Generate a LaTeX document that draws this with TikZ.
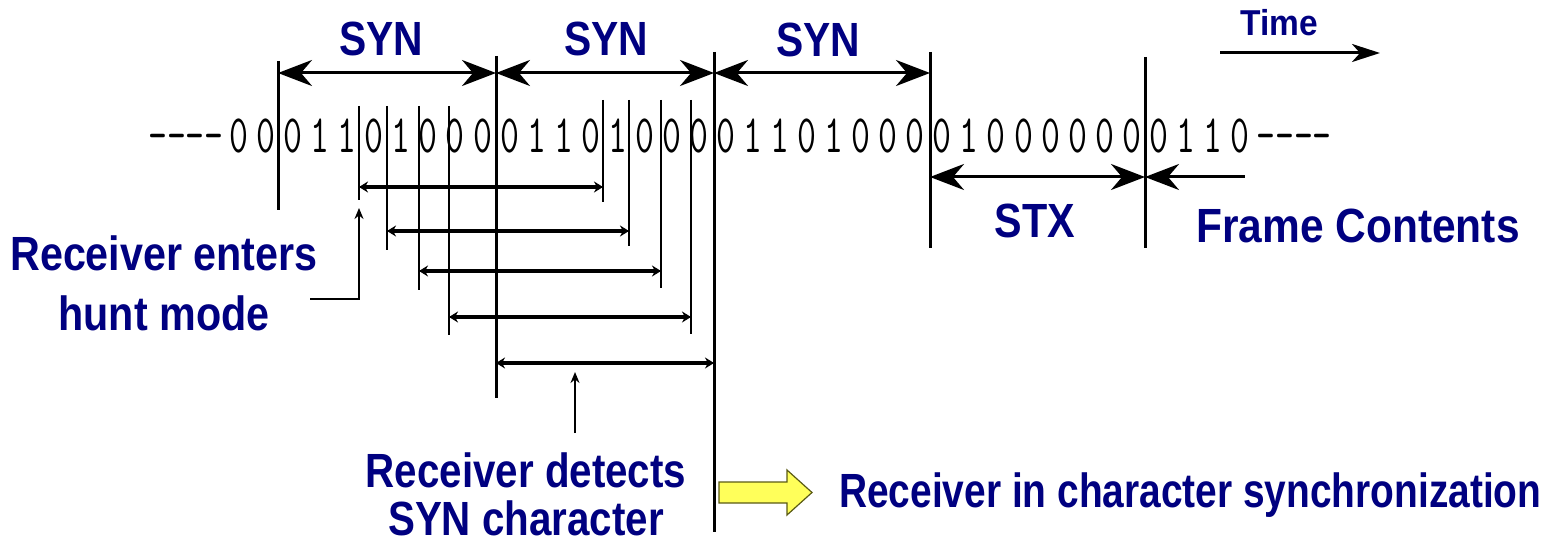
\documentclass[tikz,border=0pt]{standalone}
\usepackage{fontspec}
\setmainfont{Liberation Sans}
\usepackage{graphicx}
\usetikzlibrary{arrows.meta,positioning}

\definecolor{navytext}{RGB}{0,0,128}
\definecolor{hiyellow}{RGB}{255,255,90}
\definecolor{hiedge}{RGB}{90,90,20}

\newcommand{\hsq}[2]{\scalebox{#1}[1]{#2}}

\tikzset{
  lbl/.style={text=navytext, font=\fontsize{48}{60}\selectfont\bfseries, inner sep=0pt, anchor=base},
  bit/.style={font=\fontsize{54}{54}\selectfont\ttfamily, inner sep=0pt, anchor=base},
  bound/.style={line width=3pt},
  hunt/.style={line width=2pt},
  bigtip/.style={line width=3pt, >={Stealth[length=34pt,width=26pt,inset=11pt]}},
  window/.style={line width=3.5pt, <->, >={Stealth[length=9pt,width=11pt]}},
  pointer/.style={line width=2pt, ->, >={Stealth[length=11pt,width=9pt]}},
}

\begin{document}
\begin{tikzpicture}[x=1pt, y=-1pt]
    \useasboundingbox (0,0) rectangle (1554,545);

    % === bit stream ===
    \node[bit, anchor=base east] (lead) at (224,153) {\hsq{0.68}{----}};
    \foreach \b [count=\k from 0] in {0,0, 0,1,1,0,1,0,0,0, 0,1,1,0,1,0,0,0, 0,1,1,0,1,0,0,0, 0,1,0,0,0,0,0,0, 0,1,1,0}
        \node[bit] (b\k) at ({239+27.05*\k},153) {\hsq{0.68}{\b}};
    \node[bit, anchor=base west] (trail) at (1256,153) {\hsq{0.68}{----}};

    % === character boundaries ===
    \foreach \n/\x/\t/\e in {s0/278/61/210, s1/496/56/398, s2/714/52/532, s3/930/52/248, s4/1145/57/248} {
        \coordinate (\n t) at (\x,\t);
        \coordinate (\n b) at (\x,\e);
        \draw[bound] (\n t) -- (\n b);
    }
    \coordinate (syny) at (0,73);
    \coordinate (stxy) at (0,177);
    \draw[bigtip, <->] (s0t |- syny) -- (s1t |- syny);
    \draw[bigtip, <->] (s1t |- syny) -- (s2t |- syny);
    \draw[bigtip, <->] (s2t |- syny) -- (s3t |- syny);
    \draw[bigtip, <->] (s3t |- stxy) -- (s4t |- stxy);
    \coordinate (fcend) at (1245,177);
    \draw[bigtip, <-] (s4t |- stxy) -- (fcend);

    % === time axis ===
    \coordinate (time0) at (1220,53);
    \coordinate (time1) at (1380,53);
    \draw[bigtip, ->, >={Stealth[length=28pt,width=18pt,inset=8pt]}] (time0) -- (time1);

    % === hunt mode windows ===
    \foreach \i/\xl/\xr/\y/\yl/\yr in {1/359/603/187/200/202, 2/387/629/231/250/246, 3/419/661/271/290/288, 4/449/691/317/335/334} {
        \coordinate (w\i lt) at (\xl,106);
        \coordinate (w\i lb) at (\xl,\yl);
        \coordinate (w\i rt) at (\xr,100);
        \coordinate (w\i rb) at (\xr,\yr);
        \draw[hunt] (w\i lt) -- (w\i lb);
        \draw[hunt] (w\i rt) -- (w\i rb);
        \draw[window] (w\i lb |- 0,\y) -- (w\i rb |- 0,\y);
    }
    \draw[window] (s1t |- 0,363) -- (s2t |- 0,363);

    % === labels ===
    \node[lbl] (syn1) at (381,56) {\hsq{0.85}{SYN}};
    \node[lbl] (syn2) at (606,56) {\hsq{0.85}{SYN}};
    \node[lbl] (syn3) at (818,57) {\hsq{0.85}{SYN}};
    \node[lbl, font=\fontsize{36}{40}\selectfont\bfseries] (time) at (1279,36) {\hsq{0.93}{Time}};
    \node[lbl] (stx) at (1035,237) {\hsq{0.86}{STX}};
    \node[lbl] (frame) at (1358,243) {\hsq{0.885}{Frame Contents}};
    \node[lbl, align=center] (enter) at (164,330) {\hsq{0.86}{Receiver enters}\\\hsq{0.86}{hunt mode}};
    \node[lbl, align=center, font=\fontsize{48}{48}\selectfont\bfseries] (detect) at (526,535) {\hsq{0.84}{Receiver detects}\\\hsq{0.84}{SYN character}};
    \node[lbl, anchor=base west] (sync) at (839,507) {\hsq{0.81}{Receiver in character synchronization}};

    % === pointers ===
    \coordinate (huntfrom) at (310,299);
    \coordinate (huntto) at (359,208);
    \draw[pointer] (huntfrom) -| (huntto);
    \coordinate (detfrom) at (575,433);
    \coordinate (detto) at (575,372);
    \draw[pointer] (detfrom) -- (detto);
    \draw[fill=hiyellow, draw=hiedge, line width=1.2pt] (719,482) -- (787,482) -- (787,470) -- (812,492.5) -- (787,515) -- (787,503) -- (719,503) -- cycle;

\end{tikzpicture}
\end{document}
